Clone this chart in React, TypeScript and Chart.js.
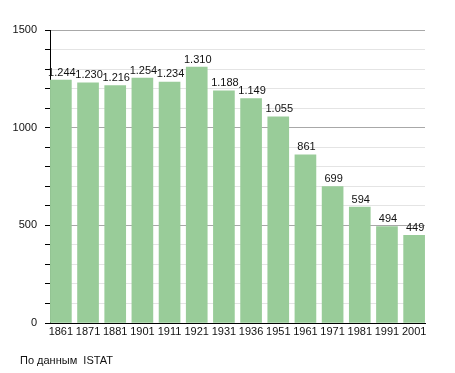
import React, { useEffect, useRef } from "react";
import { Chart, registerables } from "chart.js";

Chart.register(...registerables);

const years = ["1861", "1871", "1881", "1901", "1911", "1921", "1931", "1936", "1951", "1961", "1971", "1981", "1991", "2001"];
const population = [1244, 1230, 1216, 1254, 1234, 1310, 1188, 1149, 1055, 861, 699, 594, 494, 449];
const yTickLabels = [0, 500, 1000, 1500];
const sourceNote = "По данным  ISTAT";

const FONT = "'Liberation Sans', Arial, sans-serif";

function fmt(v: number): string {
  const s = String(Math.round(v));
  return s.replace(/\B(?=(\d{3})+(?!\d))/g, ".");
}

export default function App() {
  const ref = useRef<HTMLCanvasElement | null>(null);

  useEffect(() => {
    if (!ref.current) return;
    const valueLabels = {
      id: "valueLabels",
      afterDatasetsDraw(chart: any) {
        const ctx = chart.ctx;
        const meta = chart.getDatasetMeta(0);
        ctx.save();
        ctx.font = `11px ${FONT}`;
        ctx.fillStyle = "#111";
        ctx.textAlign = "center";
        ctx.textBaseline = "bottom";
        meta.data.forEach((el: any, i: number) => {
          ctx.fillText(fmt(population[i]), el.x + 1, el.y - 2);
        });
        ctx.restore();
      },
    };
    const footer = {
      id: "footer",
      afterDraw(chart: any) {
        const ctx = chart.ctx;
        ctx.save();
        ctx.font = `11px ${FONT}`;
        ctx.fillStyle = "#111";
        ctx.textAlign = "left";
        ctx.textBaseline = "middle";
        ctx.fillText(sourceNote, 20, 361);
        ctx.restore();
      },
    };
    const chart = new Chart(ref.current, {
      type: "bar",
      data: {
        datasets: [
          {
            data: population.map((v, i) => ({ x: i, y: v })),
            backgroundColor: "rgb(153,204,153)",
            borderWidth: 0,
            barThickness: 21,
          },
        ],
      },
      options: {
        animation: false,
        responsive: false,
        maintainAspectRatio: false,
        layout: { padding: { top: 30, right: 30, left: 0, bottom: 0 } },
        plugins: { legend: { display: false }, tooltip: { enabled: false } },
        scales: {
          x: {
            type: "linear",
            offset: false,
            min: -0.4,
            max: 13.4,
            afterBuildTicks: (s: any) => {
              s.ticks = years.map((_, i) => ({ value: i }));
            },
            afterFit: (s: any) => {
              s.height = 50;
            },
            grid: { display: false, offset: false, drawTicks: false, tickLength: 0 },
            border: { display: true, color: "#000", width: 1 },
            ticks: {
              autoSkip: false,
              maxRotation: 0,
              padding: 2,
              color: "#111",
              font: { family: FONT, size: 11 },
              callback: (v: any) => years[v] ?? "",
            },
          },
          y: {
            min: 0,
            max: 1500,
            afterFit: (s: any) => {
              s.width = 50;
            },
            grid: {
              color: (c: any) => (c.tick && c.tick.value % 500 === 0 ? (c.tick.value === 0 ? "rgba(0,0,0,0)" : "#a8a8a8") : "#e4e4e4"),
              tickColor: "#000",
              tickLength: 5,
            },
            border: { display: true, color: "#000", width: 1 },
            ticks: {
              stepSize: 100,
              padding: 8,
              color: "#111",
              font: { family: FONT, size: 11 },
              callback: (v: any) => (yTickLabels.includes(Number(v)) ? String(v) : ""),
            },
          },
        },
      },
      plugins: [valueLabels, footer],
    } as any);
    return () => chart.destroy();
  }, []);

  return (
    <div style={{ position: "fixed", left: 0, top: 0, width: 455, height: 373, background: "#fff" }}>
      <canvas ref={ref} width={455} height={373} style={{ width: 455, height: 373 }} />
    </div>
  );
}
